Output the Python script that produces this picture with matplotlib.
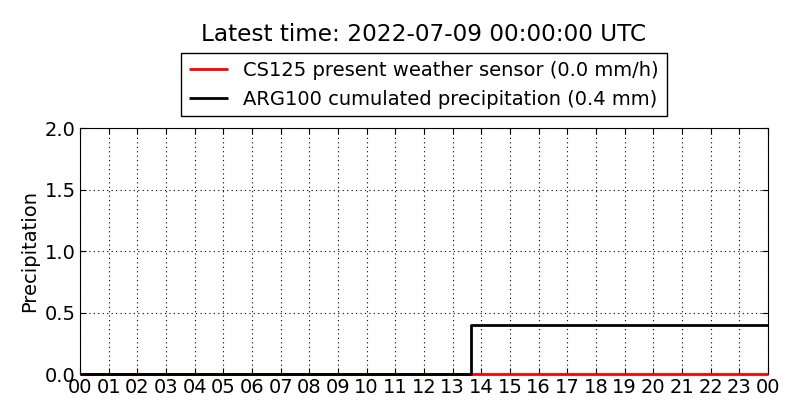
import matplotlib
matplotlib.use("Agg")
import matplotlib.pyplot as plt

# hours since 2022-07-08 00:00 UTC
cs_hours = [0.0, 24.0]
cs_rate = [0.0, 0.0]            # CS125 rate, mm/h
arg_hours = [0.0, 13.63, 24.0]
arg_cum = [0.0, 0.4, 0.4]       # ARG100 cumulated, mm
tick_hours = list(range(25))
tick_labels = ["%02d" % (h % 24) for h in tick_hours]

fig = plt.figure(figsize=(8, 4.2), dpi=100)
ax = fig.add_axes([0.1, 0.109, 0.86, 0.586])
ax.plot(cs_hours, cs_rate, color="red", lw=2, clip_on=False, zorder=3,
        solid_capstyle="butt",
        label="CS125 present weather sensor (0.0 mm/h)")
ax.plot(arg_hours, arg_cum, color="black", lw=2, drawstyle="steps-post",
        clip_on=False, zorder=4, solid_capstyle="butt",
        label="ARG100 cumulated precipitation (0.4 mm)")
ax.set_xlim(0, 24)
ax.set_ylim(0, 2.0)
ax.set_xticks(tick_hours)
ax.set_xticklabels(tick_labels)
ax.set_yticks([0.0, 0.5, 1.0, 1.5, 2.0])
ax.tick_params(direction="in", top=True, right=True, labelsize=14, length=4, pad=3)
ax.grid(True, color="black", ls=(0, (1, 3)), lw=0.8)
ax.set_ylabel("Precipitation", fontsize=14)
leg = ax.legend(loc="lower center", bbox_to_anchor=(0.5, 1.0), fontsize=14,
                fancybox=False, framealpha=1, edgecolor="black",
                borderaxespad=0.6, handlelength=2.0)
leg.get_frame().set_linewidth(1.0)
fig.text(0.53, 0.917, "Latest time: 2022-07-09 00:00:00 UTC", ha="center",
         va="center", fontsize=16.7)
fig.savefig("out.png", dpi=100)
